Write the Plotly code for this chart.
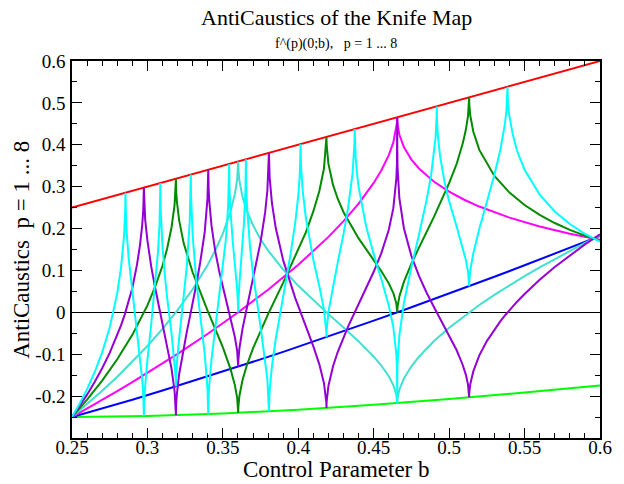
import plotly.graph_objects as go

# ---------------- data ----------------
# p = 1 (red, upper envelope)
b_p1 = [0.25, 0.60]
y_p1 = [0.25, 0.60]

# p = 2 (bright green, lower envelope)
b_p2 = [0.25, 0.30, 0.35, 0.40, 0.45, 0.50, 0.55, 0.60]
y_p2 = [-0.25, -0.2477, -0.2416, -0.2325, -0.2208, -0.2071, -0.1916, -0.1746]

# p = 3 (blue)
b_p3 = [0.25, 0.27, 0.29, 0.31, 0.33, 0.35, 0.37, 0.39, 0.41, 0.43, 0.45,
        0.47, 0.49, 0.51, 0.53, 0.55, 0.57, 0.60]
y_p3 = [-0.25, -0.2296, -0.2085, -0.1868, -0.1644, -0.1415, -0.1181, -0.0943,
        -0.0699, -0.0451, -0.0199, 0.0057, 0.0317, 0.0582, 0.0850, 0.1123,
        0.1399, 0.1822]

# p = 4 (magenta)
b_p4 = [0.25, 0.26, 0.27, 0.28, 0.29, 0.30, 0.32, 0.34, 0.36, 0.38, 0.40,
        0.42, 0.43, 0.44, 0.45, 0.455, 0.46, 0.463, 0.465, 0.4655, 0.4656,
        0.4658, 0.467, 0.47, 0.475, 0.48, 0.49, 0.50, 0.51, 0.52, 0.54, 0.56,
        0.58, 0.60]
y_p4 = [-0.25, -0.2298, -0.2092, -0.1881, -0.1666, -0.1447, -0.0991, -0.0512,
        -0.0004, 0.0540, 0.1134, 0.1801, 0.2176, 0.2595, 0.3089, 0.3387,
        0.3754, 0.4056, 0.4382, 0.4541, 0.4656, 0.4497, 0.4240, 0.3944,
        0.3646, 0.3434, 0.3118, 0.2881, 0.2688, 0.2525, 0.2260, 0.2050,
        0.1877, 0.1732]

# p = 5 (turquoise)
b_p5 = [0.25, 0.26, 0.27, 0.28, 0.29, 0.30, 0.31, 0.32, 0.33, 0.34, 0.345,
        0.35, 0.355, 0.358, 0.3595, 0.3601, 0.36016, 0.3603, 0.361, 0.363,
        0.366, 0.37, 0.375, 0.38, 0.39, 0.40, 0.41, 0.42, 0.43, 0.44, 0.45,
        0.455, 0.46, 0.463, 0.465, 0.4654, 0.4656, 0.4658, 0.467, 0.47, 0.475,
        0.48, 0.49, 0.50, 0.51, 0.52, 0.53, 0.54, 0.55, 0.56, 0.57, 0.58,
        0.59, 0.60]
y_p5 = [-0.25, -0.2194, -0.1874, -0.1538, -0.1182, -0.0803, -0.0395, 0.0052,
        0.0552, 0.1137, 0.1482, 0.1881, 0.2396, 0.2833, 0.3182, 0.3475,
        0.3602, 0.3411, 0.3136, 0.2759, 0.2411, 0.2079, 0.1746, 0.1475,
        0.1019, 0.0633, 0.0284, -0.0043, -0.0365, -0.0694, -0.1058, -0.1270,
        -0.1527, -0.1739, -0.1969, -0.2049, -0.2168, -0.2048, -0.1842,
        -0.1580, -0.1288, -0.1060, -0.0684, -0.0367, -0.0085, 0.0175, 0.0417,
        0.0646, 0.0864, 0.1072, 0.1273, 0.1467, 0.1656, 0.1838]

# p = 6 (dark green)
b_p6 = [0.25, 0.26, 0.27, 0.28, 0.29, 0.30, 0.305, 0.31, 0.313, 0.316, 0.318,
        0.3188, 0.3189, 0.3191, 0.3195, 0.321, 0.324, 0.33, 0.335, 0.34,
        0.345, 0.35, 0.355, 0.358, 0.3595, 0.3601, 0.36016, 0.3603, 0.361,
        0.363, 0.366, 0.37, 0.375, 0.38, 0.39, 0.40, 0.405, 0.41, 0.414,
        0.417, 0.4186, 0.41868, 0.4188, 0.42, 0.423, 0.426, 0.43, 0.44, 0.45,
        0.455, 0.46, 0.463, 0.465, 0.4654, 0.4656, 0.4658, 0.467, 0.47, 0.475,
        0.48, 0.49, 0.50, 0.505, 0.509, 0.511, 0.5125, 0.5132, 0.51326,
        0.5134, 0.514, 0.516, 0.519, 0.52, 0.53, 0.54, 0.55, 0.56, 0.57,
        0.58, 0.59, 0.60]
y_p6 = [-0.25, -0.2084, -0.1629, -0.1121, -0.0538, 0.0166, 0.0602, 0.1112,
        0.1514, 0.2032, 0.2564, 0.2976, 0.3189, 0.2868, 0.2657, 0.2202,
        0.1653, 0.0950, 0.0464, 0.0028, -0.0400, -0.0837, -0.1345, -0.1743,
        -0.2046, -0.2294, -0.2400, -0.2237, -0.1990, -0.1623, -0.1250,
        -0.0859, -0.0429, -0.0041, 0.0708, 0.1485, 0.1909, 0.2414, 0.2902,
        0.3428, 0.4025, 0.4187, 0.3991, 0.3542, 0.3049, 0.2724, 0.2391,
        0.1765, 0.1247, 0.0987, 0.0692, 0.0460, 0.0212, 0.0127, 0.0000,
        0.0133, 0.0379, 0.0725, 0.1161, 0.1545, 0.2284, 0.3084, 0.3547,
        0.4028, 0.4345, 0.4682, 0.5006, 0.5133, 0.4944, 0.4702, 0.4317,
        0.3969, 0.3877, 0.3257, 0.2859, 0.2561, 0.2325, 0.2132, 0.1970,
        0.1831, 0.1713]

# p = 7 (violet)
b_p7 = [0.25, 0.255, 0.26, 0.265, 0.27, 0.275, 0.28, 0.2825, 0.285, 0.2875,
        0.29, 0.293, 0.295, 0.2965, 0.2972, 0.29765, 0.2981, 0.2985, 0.30,
        0.3025, 0.305, 0.307, 0.31, 0.3115, 0.313, 0.316, 0.318, 0.3188,
        0.3189, 0.3191, 0.3195, 0.321, 0.324, 0.326, 0.328, 0.33, 0.3325,
        0.335, 0.338, 0.3398, 0.34033, 0.3406, 0.341, 0.3425, 0.345, 0.3475,
        0.35, 0.354, 0.355, 0.3565, 0.358, 0.3595, 0.3601, 0.36016, 0.3603,
        0.361, 0.363, 0.366, 0.368, 0.37, 0.375, 0.378, 0.3795, 0.38055,
        0.381, 0.3825, 0.385, 0.39, 0.395, 0.398, 0.40, 0.405, 0.41, 0.414,
        0.417, 0.4186, 0.41868, 0.4188, 0.42, 0.423, 0.426, 0.43, 0.433,
        0.44, 0.445, 0.45, 0.455, 0.46, 0.463, 0.465, 0.4654, 0.46558,
        0.4656, 0.46562, 0.4658, 0.467, 0.47, 0.475, 0.48, 0.485, 0.49, 0.50,
        0.505, 0.509, 0.511, 0.5125, 0.5132, 0.51326, 0.5134, 0.514, 0.516,
        0.519, 0.52, 0.525, 0.53, 0.534, 0.537, 0.54, 0.545, 0.55, 0.56,
        0.57, 0.58, 0.59, 0.60]
y_p7 = [-0.25, -0.2242, -0.1965, -0.1665, -0.1336, -0.0968, -0.0548, -0.0312,
        -0.0049, 0.0243, 0.0580, 0.1121, 0.1585, 0.2067, 0.2409, 0.2977,
        0.2418, 0.2212, 0.1713, 0.1096, 0.0610, 0.0265, -0.0234, -0.0487,
        -0.0760, -0.1348, -0.1884, -0.2267, -0.2458, -0.2164, -0.1959,
        -0.1483, -0.0826, -0.0484, -0.0133, 0.0218, 0.0683, 0.1196, 0.1923,
        0.2714, 0.3403, 0.2925, 0.2653, 0.2062, 0.1450, 0.0994, 0.0607,
        0.0027, -0.0117, -0.0343, -0.0594, -0.0928, -0.1189, -0.1297,
        -0.1127, -0.0851, -0.0398, 0.0124, 0.0447, 0.0769, 0.1680, 0.2380,
        0.2902, 0.3806, 0.3228, 0.2616, 0.2024, 0.1240, 0.0644, 0.0338,
        0.0146, -0.0319, -0.0813, -0.1247, -0.1685, -0.2158, -0.2284,
        -0.2129, -0.1752, -0.1291, -0.0959, -0.0589, -0.0340, 0.0199, 0.0576,
        0.0968, 0.1409, 0.1970, 0.2486, 0.3193, 0.3547, 0.4034, 0.4656,
        0.3983, 0.3462, 0.2724, 0.2008, 0.1343, 0.0870, 0.0474, 0.0121,
        -0.0553, -0.0906, -0.1257, -0.1481, -0.1718, -0.1943, -0.2032,
        -0.1897, -0.1717, -0.1410, -0.1110, -0.1027, -0.0686, -0.0407,
        -0.0211, -0.0075, 0.0053, 0.0254, 0.0439, 0.0778, 0.1083, 0.1362,
        0.1621, 0.1862]

# p = 8 (cyan)
b_p8 = [0.25, 0.255, 0.26, 0.265, 0.27, 0.275, 0.28, 0.2825, 0.2845, 0.285,
        0.2853, 0.28542, 0.2855, 0.286, 0.2875, 0.29, 0.293, 0.295, 0.2965,
        0.2972, 0.29765, 0.2981, 0.2985, 0.30, 0.3025, 0.305, 0.307, 0.308,
        0.3085, 0.30859, 0.3087, 0.3089, 0.3095, 0.31, 0.3115, 0.313, 0.316,
        0.318, 0.3188, 0.3189, 0.3191, 0.3195, 0.321, 0.324, 0.326, 0.328,
        0.3285, 0.32876, 0.3289, 0.3295, 0.33, 0.3325, 0.335, 0.338, 0.3398,
        0.34, 0.34033, 0.3406, 0.341, 0.3425, 0.345, 0.3475, 0.35, 0.352,
        0.3535, 0.3541, 0.35419, 0.3543, 0.3545, 0.355, 0.3565, 0.358,
        0.3595, 0.3601, 0.36016, 0.3603, 0.361, 0.363, 0.364, 0.365, 0.3652,
        0.36529, 0.3654, 0.3656, 0.366, 0.368, 0.37, 0.375, 0.378, 0.3795,
        0.38055, 0.381, 0.3825, 0.385, 0.39, 0.395, 0.398, 0.40, 0.401,
        0.4015, 0.40157, 0.4017, 0.402, 0.403, 0.405, 0.41, 0.414, 0.417,
        0.4186, 0.41868, 0.4188, 0.42, 0.423, 0.426, 0.43, 0.433, 0.436,
        0.437, 0.4373, 0.4374, 0.4375, 0.438, 0.439, 0.44, 0.445, 0.45,
        0.455, 0.46, 0.463, 0.465, 0.4654, 0.46558, 0.4656, 0.46562, 0.4658,
        0.467, 0.47, 0.475, 0.48, 0.485, 0.488, 0.49, 0.491, 0.4917, 0.49179,
        0.4919, 0.4925, 0.494, 0.497, 0.50, 0.505, 0.509, 0.511, 0.5125,
        0.5132, 0.51326, 0.5134, 0.514, 0.516, 0.519, 0.52, 0.525, 0.53,
        0.534, 0.537, 0.538, 0.5386, 0.5387, 0.5388, 0.5395, 0.54, 0.542,
        0.545, 0.55, 0.56, 0.57, 0.58, 0.59, 0.60]
y_p8 = [-0.25, -0.2185, -0.1833, -0.1430, -0.0955, -0.0361, 0.0458, 0.1060,
        0.1826, 0.2151, 0.2479, 0.2854, 0.2550, 0.2035, 0.1317, 0.0492,
        -0.0419, -0.1031, -0.1581, -0.1936, -0.2479, -0.1936, -0.1718,
        -0.1139, -0.0285, 0.0580, 0.1442, 0.2085, 0.2698, 0.3086, 0.2663,
        0.2375, 0.1866, 0.1569, 0.0909, 0.0373, -0.0512, -0.1161, -0.1573,
        -0.1769, -0.1461, -0.1231, -0.0640, 0.0367, 0.1061, 0.2129, 0.2624,
        0.3288, 0.2794, 0.2159, 0.1824, 0.0712, -0.0108, -0.1005, -0.1812,
        -0.1955, -0.2431, -0.2002, -0.1741, -0.1116, -0.0358, 0.0322, 0.1035,
        0.1738, 0.2530, 0.3180, 0.3542, 0.3143, 0.2876, 0.2467, 0.1714,
        0.1142, 0.0549, 0.0153, 0.0000, 0.0246, 0.0693, 0.1635, 0.2143,
        0.2943, 0.3252, 0.3653, 0.3218, 0.2921, 0.2546, 0.1565, 0.0927,
        -0.0349, -0.1099, -0.1592, -0.2363, -0.1871, -0.1290, -0.0649,
        0.0379, 0.1412, 0.2143, 0.2790, 0.3282, 0.3760, 0.4016, 0.3671,
        0.3388, 0.2877, 0.2264, 0.1249, 0.0609, 0.0065, -0.0459, -0.0592,
        -0.0426, 0.0015, 0.0636, 0.1163, 0.1872, 0.2487, 0.3316, 0.3803,
        0.4090, 0.4374, 0.4098, 0.3711, 0.3286, 0.2990, 0.2049, 0.1389,
        0.0797, 0.0162, -0.0356, -0.1001, -0.1302, -0.1696, -0.2168, -0.1655,
        -0.1226, -0.0549, 0.0219, 0.1086, 0.1851, 0.2672, 0.3261, 0.3801,
        0.4179, 0.4672, 0.4918, 0.4647, 0.4232, 0.3723, 0.3102, 0.2649,
        0.2041, 0.1545, 0.1261, 0.0980, 0.0724, 0.0625, 0.0779, 0.0996,
        0.1405, 0.1858, 0.1996, 0.2632, 0.3282, 0.3888, 0.4504, 0.4833,
        0.5222, 0.5387, 0.5143, 0.4787, 0.4670, 0.4275, 0.3856, 0.3404,
        0.2811, 0.2409, 0.2109, 0.1874, 0.1686]

x_tick_vals = [0.25, 0.30, 0.35, 0.40, 0.45, 0.50, 0.55, 0.60]
x_tick_text = ["0.25", "0.3", "0.35", "0.4", "0.45", "0.5", "0.55", "0.6"]
y_tick_vals = [-0.2, -0.1, 0.0, 0.1, 0.2, 0.3, 0.4, 0.5, 0.6]
y_tick_text = ["-0.2", "-0.1", "0", "0.1", "0.2", "0.3", "0.4", "0.5", "0.6"]

colors = {1: "#ff0000", 2: "#00ff00", 3: "#0000ff", 4: "#ff00ff",
          5: "#40e0d0", 6: "#008b00", 7: "#9400d3", 8: "#00ffff"}
data = {1: (b_p1, y_p1), 2: (b_p2, y_p2), 3: (b_p3, y_p3), 4: (b_p4, y_p4),
        5: (b_p5, y_p5), 6: (b_p6, y_p6), 7: (b_p7, y_p7), 8: (b_p8, y_p8)}

SERIF = "Liberation Serif"

fig = go.Figure()
for p in range(1, 9):
    bx, yy = data[p]
    fig.add_trace(go.Scatter(x=bx, y=yy, mode="lines",
                             line=dict(color=colors[p], width=2),
                             showlegend=False, hoverinfo="skip"))

axis_common = dict(
    showgrid=False, ticks="inside", tickcolor="black", tickwidth=1,
    ticklen=10, showline=True, linecolor="black", linewidth=1.5,
    mirror="allticks", tickfont=dict(family=SERIF, size=19, color="black"),
    tickmode="array",
)

W, H = 624, 484
L, R, T, B = 72, 15, 61, 46
pw, ph = W - L - R, H - T - B


def px_x(x):
    return (x - L) / pw


def px_y(y):
    return (H - B - y) / ph


fig.update_layout(
    width=W, height=H,
    margin=dict(l=L, r=R, t=T, b=B),
    paper_bgcolor="white", plot_bgcolor="white",
    font=dict(family=SERIF, color="black"),
    xaxis=dict(range=[0.25, 0.6], tickvals=x_tick_vals, ticktext=x_tick_text,
               minor=dict(tickmode="linear", tick0=0.25, dtick=0.01,
                          ticks="inside", ticklen=5, tickcolor="black",
                          showgrid=False),
               ticklabelstandoff=-9,
               zeroline=False, **axis_common),
    yaxis=dict(range=[-0.3, 0.6], tickvals=y_tick_vals, ticktext=y_tick_text,
               minor=dict(tickmode="linear", tick0=0.0, dtick=0.05,
                          ticks="inside", ticklen=5, tickcolor="black",
                          showgrid=False),
               ticklabelstandoff=1,
               zeroline=True, zerolinecolor="black", zerolinewidth=1,
               **axis_common),
    annotations=[
        dict(text="AntiCaustics of the Knife Map", x=px_x(340.5), y=px_y(17),
             xref="paper", yref="paper", showarrow=False,
             xanchor="center", yanchor="middle",
             font=dict(family=SERIF, size=22, color="black")),
        dict(text="f^(p)(0;b),\u00a0\u00a0\u00a0p = 1 ... 8", x=px_x(340.5),
             y=px_y(44), xref="paper", yref="paper", showarrow=False,
             xanchor="center", yanchor="middle",
             font=dict(family=SERIF, size=14, color="black")),
        dict(text="Control Parameter b", x=px_x(340.5), y=px_y(469),
             xref="paper", yref="paper", showarrow=False,
             xanchor="center", yanchor="middle",
             font=dict(family=SERIF, size=23, color="black")),
        dict(text="AntiCaustics\u00a0\u00a0p = 1 ... 8", x=px_x(20),
             y=px_y(250), xref="paper", yref="paper", showarrow=False,
             textangle=-90, xanchor="center", yanchor="middle",
             font=dict(family=SERIF, size=23, color="black")),
    ],
)

fig.write_html("out.html")
